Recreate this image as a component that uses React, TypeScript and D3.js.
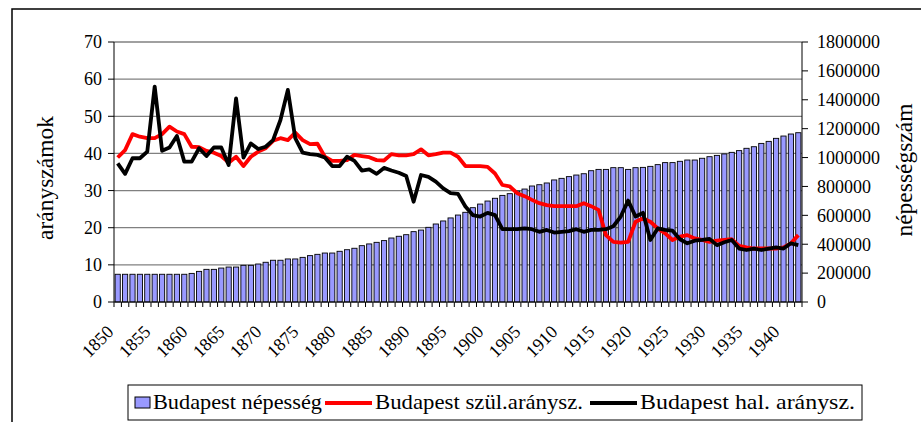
import React from "react";
import * as d3 from "d3";

const years: number[] = d3.range(1850, 1943);

const population: number[] = [
  192000, 192000, 192000, 192000, 192000, 192000, 192000, 192000, 192000, 192000,
  198000, 212000, 226000, 226000, 235000, 242000, 242000, 254000, 254000, 263000,
  275000, 289000, 289000, 298000, 298000, 309000, 321000, 330000, 339000, 339000,
  351000, 362000, 372000, 390000, 402000, 413000, 425000, 443000, 455000, 466000,
  487000, 498000, 517000, 540000, 561000, 582000, 602000, 621000, 653000, 678000,
  699000, 718000, 738000, 750000, 768000, 782000, 803000, 812000, 824000, 845000,
  856000, 868000, 879000, 888000, 909000, 918000, 918000, 930000, 930000, 918000,
  930000, 932000, 939000, 951000, 965000, 965000, 974000, 983000, 983000, 995000,
  1006000, 1015000, 1025000, 1036000, 1048000, 1064000, 1075000, 1098000, 1112000, 1133000,
  1149000, 1163000, 1172000,
];

const birthRate: number[] = [
  38.9, 40.9, 45.2, 44.5, 44.1, 44.1, 45.2, 47.2, 45.9, 45.2,
  41.8, 41.7, 40.7, 40.2, 39.3, 37.5, 39.1, 36.6, 39.1, 40.5,
  41.4, 43.4, 44.1, 43.6, 45.6, 43.6, 42.5, 42.6, 39.1, 38.0,
  38.0, 38.2, 39.6, 39.3, 39.0, 38.2, 38.1, 39.8, 39.5, 39.5,
  39.8, 41.1, 39.5, 39.8, 40.2, 40.2, 39.1, 36.6, 36.6, 36.6,
  36.4, 34.6, 31.5, 31.1, 29.3, 28.5, 27.5, 26.6, 26.1, 25.8,
  25.8, 25.8, 25.8, 26.6, 25.8, 24.8, 18.0, 16.2, 16.0, 16.2,
  21.6, 22.5, 21.6, 19.8, 18.5, 16.7, 17.6, 18.0, 17.1, 16.7,
  16.2, 16.5, 16.7, 16.9, 15.1, 14.7, 14.4, 14.4, 14.4, 14.4,
  14.7, 15.8, 18.0,
];

const deathRate: number[] = [
  37.3, 34.5, 38.7, 38.7, 40.5, 58.0, 40.7, 41.6, 44.7, 37.8,
  37.8, 41.4, 39.3, 41.6, 41.6, 36.9, 54.8, 38.9, 42.7, 41.2,
  41.8, 43.6, 49.0, 57.1, 44.1, 40.2, 39.8, 39.6, 38.9, 36.6,
  36.6, 39.1, 38.0, 35.4, 35.7, 34.5, 36.1, 35.4, 34.8, 33.9,
  27.0, 34.2, 33.7, 32.4, 30.6, 29.3, 29.1, 25.7, 23.4, 23.0,
  24.0, 23.4, 19.6, 19.6, 19.6, 19.8, 19.6, 18.9, 19.4, 18.7,
  18.9, 19.1, 19.6, 18.9, 19.4, 19.4, 19.6, 20.4, 23.0, 27.3,
  23.0, 24.0, 16.7, 19.8, 19.4, 19.2, 16.9, 15.8, 16.5, 16.7,
  17.0, 15.3, 16.1, 16.7, 14.4, 14.0, 14.4, 14.0, 14.4, 14.7,
  14.4, 15.8, 15.3,
];

const leftTicks: number[] = [0, 10, 20, 30, 40, 50, 60, 70];
const rightTicks: number[] = [0, 200000, 400000, 600000, 800000, 1000000, 1200000, 1400000, 1600000, 1800000];
const labelYears: number[] = d3.range(1850, 1941, 5);

const seriesNames: string[] = [
  "Budapest népesség",
  "Budapest szül.aránysz.",
  "Budapest hal. aránysz.",
];

const W = 921;
const H = 422;
const PL = 114;
const PR = 802;
const PT = 42;
const PB = 302;
const FONT = '"Liberation Serif", "DejaVu Serif", serif';

export default function App() {
  const x = d3.scaleBand<number>().domain(years).range([PL, PR]).paddingInner(0.3).paddingOuter(0.15);
  const step = x.step();
  const cx = (y: number) => (x(y) as number) + x.bandwidth() / 2;
  const yL = d3.scaleLinear().domain([0, 70]).range([PB, PT]);
  const yR = d3.scaleLinear().domain([0, 1800000]).range([PB, PT]);

  const line = d3
    .line<number>()
    .x((_, i) => cx(years[i]))
    .y((d) => yL(d))
    .curve(d3.curveLinear);

  const boundaries = d3.range(0, years.length + 1).map((k) => PL + k * step);
  const ts = { fontFamily: FONT } as React.CSSProperties;

  return (
    <svg
      width={W}
      height={H}
      style={{ position: "absolute", left: 0, top: 0, background: "#fff", fontFamily: FONT }}
    >
      <rect x={0} y={0} width={W} height={H} fill="#fff" />
      <rect x={12} y={9} width={W + 20} height={H + 20} fill="none" stroke="#000" strokeWidth={1.5} />

      {leftTicks.slice(1).map((t) => (
        <line key={"g" + t} x1={PL} x2={PR} y1={yL(t)} y2={yL(t)} stroke="#808080" strokeWidth={1.3} />
      ))}

      {years.map((yr, i) => (
        <rect
          key={"b" + yr}
          x={x(yr) as number}
          y={yR(population[i])}
          width={x.bandwidth()}
          height={PB - yR(population[i])}
          fill="#9999FF"
          stroke="#000"
          strokeWidth={0.9}
        />
      ))}

      <path d={line(birthRate) || ""} fill="none" stroke="#FF0000" strokeWidth={3.8} strokeLinejoin="round" />
      <path d={line(deathRate) || ""} fill="none" stroke="#000" strokeWidth={3.8} strokeLinejoin="round" />

      <line x1={PL} x2={PL} y1={PT} y2={PB} stroke="#000" strokeWidth={1} />
      <line x1={PR} x2={PR} y1={PT} y2={PB} stroke="#000" strokeWidth={1} />
      <line x1={PL} x2={PR} y1={PB} y2={PB} stroke="#000" strokeWidth={1} />

      {leftTicks.map((t) => (
        <g key={"lt" + t}>
          <line x1={PL - 6} x2={PL} y1={yL(t)} y2={yL(t)} stroke="#000" />
          <text style={ts} x={PL - 12} y={yL(t)} dy="0.35em" textAnchor="end" fontSize={18} fill="#000">
            {t}
          </text>
        </g>
      ))}
      {rightTicks.map((t) => (
        <g key={"rt" + t}>
          <line x1={PR} x2={PR + 6} y1={yR(t)} y2={yR(t)} stroke="#000" />
          <text style={ts} x={PR + 15} y={yR(t)} dy="0.35em" textAnchor="start" fontSize={18} fill="#000">
            {t}
          </text>
        </g>
      ))}
      {boundaries.map((bx, k) => (
        <line key={"xt" + k} x1={bx} x2={bx} y1={PB} y2={PB + 5} stroke="#000" />
      ))}
      {labelYears.map((yr) => (
        <text
          key={"xl" + yr}
          style={ts}
          transform={`translate(${cx(yr) - 3},${333}) rotate(-45)`}
          textAnchor="end"
          fontSize={18}
          fill="#000"
        >
          {yr}
        </text>
      ))}

      <text style={ts} transform={`translate(53,178) rotate(-90)`} textAnchor="middle" fontSize={23.5} fill="#000">
        arányszámok
      </text>
      <text style={ts} transform={`translate(912,170) rotate(-90)`} textAnchor="middle" fontSize={23.5} fill="#000">
        népességszám
      </text>

      <rect x={128} y={385} width={734} height={35} fill="#fff" stroke="#000" strokeWidth={1} />
      <rect x={135} y={397} width={15} height={11} fill="#9999FF" stroke="#000" strokeWidth={1} />
      <text style={ts} x={153} y={409} fontSize={21.5} fill="#000" textLength={169} lengthAdjust="spacingAndGlyphs">
        {seriesNames[0]}
      </text>
      <line x1={325} x2={372} y1={403} y2={403} stroke="#FF0000" strokeWidth={4} />
      <text style={ts} x={375} y={409} fontSize={21.5} fill="#000" textLength={208} lengthAdjust="spacingAndGlyphs">
        {seriesNames[1]}
      </text>
      <line x1={590} x2={637} y1={403} y2={403} stroke="#000" strokeWidth={4} />
      <text style={ts} x={640} y={409} fontSize={21.5} fill="#000" textLength={215} lengthAdjust="spacingAndGlyphs">
        {seriesNames[2]}
      </text>
    </svg>
  );
}
